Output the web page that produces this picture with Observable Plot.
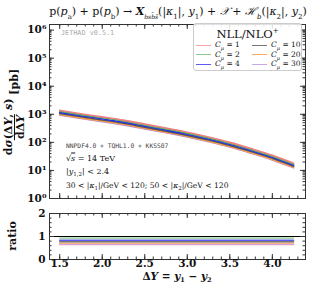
<!DOCTYPE html>
<html><head><meta charset="utf-8">
<script src="https://cdn.jsdelivr.net/npm/d3@7"></script>
<script src="https://cdn.jsdelivr.net/npm/@observablehq/plot@0.6"></script>
<style>
body{margin:0;background:#fff;}
#root{position:relative;width:309px;height:285px;overflow:hidden;font-family:"DejaVu Serif",serif;color:#111;}
.abs{position:absolute;white-space:nowrap;}
.legend{position:absolute;left:193px;top:23px;width:109px;height:48px;border:1px solid #ccc;border-radius:3px;background:rgba(255,255,255,0.85);box-sizing:border-box;}
.li{position:absolute;font-size:7.5px;line-height:9px;}
.li span.sw{display:inline-block;width:15px;height:0;border-top:1.3px solid;vertical-align:middle;margin-right:4px;}
</style></head>
<body><div id="root"></div>
<script>
// ---- data ----
const dY = [1.5, 1.75, 2.0, 2.25, 2.5, 2.75, 3.0, 3.25, 3.5, 3.75, 4.0, 4.25];
const sigmaC1  = [1380, 1050, 810, 620, 447, 324, 229, 155, 100, 60, 34.7, 18.2];
const sigmaC2  = [1290, 975, 755, 575, 415, 300, 213, 144, 93, 56, 32.3, 17.0];
const sigmaC4  = [1175, 890, 690, 525, 380, 275, 195, 132, 85, 51, 29.5, 15.5];
const sigmaC10 = [1075, 815, 630, 480, 348, 252, 178, 121, 78, 47, 27.0, 14.2];
const sigmaC20 = [980, 745, 575, 440, 317, 230, 163, 110, 71, 42.6, 24.6, 12.9];
const sigmaC30 = [940, 712, 550, 420, 303, 220, 156, 105, 68, 40.8, 23.6, 12.4];
const ratioC1  = [0.65, 0.65, 0.65, 0.65, 0.65, 0.65, 0.65, 0.65, 0.65, 0.65, 0.65, 0.65];
const ratioC2  = [0.93, 0.93, 0.93, 0.93, 0.93, 0.93, 0.93, 0.93, 0.93, 0.93, 0.93, 0.93];
const ratioC4  = [0.84, 0.84, 0.84, 0.84, 0.84, 0.84, 0.84, 0.84, 0.84, 0.84, 0.84, 0.84];
const ratioC10 = [0.77, 0.77, 0.77, 0.77, 0.77, 0.77, 0.77, 0.77, 0.77, 0.77, 0.77, 0.77];
const ratioC20 = [0.71, 0.71, 0.71, 0.71, 0.71, 0.71, 0.71, 0.71, 0.71, 0.71, 0.71, 0.71];
const ratioC30 = [0.67, 0.67, 0.67, 0.67, 0.67, 0.67, 0.67, 0.67, 0.67, 0.67, 0.67, 0.67];
const seriesNames = ["1", "2", "4", "10", "20", "30"];
const xTickLabels = [1.5, 2.0, 2.5, 3.0, 3.5, 4.0];
const yMainTicks = [1, 10, 100, 1000, 1e4, 1e5, 1e6];
const yRatioTicks = [0, 1, 2];

const colors = {"1":"#f07f80","2":"#52b052","4":"#2b2bf5","10":"#555555","20":"#ffa040","30":"#b58be0"};
const ratioColors = {"1":"#f4a3a8","2":"#8cc98c","4":"#5b5bf0","10":"#777777","20":"#ffaa66","30":"#c7a6ea"};
const sig = {"1":sigmaC1,"2":sigmaC2,"4":sigmaC4,"10":sigmaC10,"20":sigmaC20,"30":sigmaC30};
const rat = {"1":ratioC1,"2":ratioC2,"4":ratioC4,"10":ratioC10,"20":ratioC20,"30":ratioC30};
const drawOrder = ["30","20","10","4","2","1"];
const ratioOrder = ["1","30","20","10","4","2"];

const W = 309, mL = 49, mR = 4;
const innerW = W - mL - mR;
const xDomain = [1.38, 4.39];

// minor tick positions
const xMinor = d3.range(15, 44).map(v => v / 10);
const yMinor = [];
for (let n = 0; n <= 6; n++) for (let k = 1; k <= 9; k++) { const v = k * 10 ** n; if (v <= 10 ** 6.2) yMinor.push(v); }
const rMinor = d3.range(0, 11).map(v => v / 5);

const sup = {"0":"⁰","1":"¹","2":"²","3":"³","4":"⁴","5":"⁵","6":"⁶"};
const fmtPow = d => "10" + sup[String(Math.round(Math.log10(d)))];

const style = {fontFamily: "DejaVu Serif", fontSize: "10.5px", fontWeight: "bold", background: "transparent", color: "#111", overflow: "visible"};

function frameTicks(innerH, yTicksMajor, yTicksMinor) {
  const m = [];
  const xMaj = xTickLabels;
  m.push(Plot.tickX(xMinor, {x: d => d, insetBottom: innerH - 2.5, stroke: "#333"}));
  m.push(Plot.tickX(xMinor, {x: d => d, insetTop: innerH - 2.5, stroke: "#333"}));
  m.push(Plot.tickX(xMaj, {x: d => d, insetBottom: innerH - 5, stroke: "#333"}));
  m.push(Plot.tickX(xMaj, {x: d => d, insetTop: innerH - 5, stroke: "#333"}));
  m.push(Plot.tickY(yTicksMinor, {y: d => d, insetRight: innerW - 2.5, stroke: "#333"}));
  m.push(Plot.tickY(yTicksMinor, {y: d => d, insetLeft: innerW - 2.5, stroke: "#333"}));
  m.push(Plot.tickY(yTicksMajor, {y: d => d, insetRight: innerW - 5, stroke: "#333"}));
  m.push(Plot.tickY(yTicksMajor, {y: d => d, insetLeft: innerW - 5, stroke: "#333"}));
  return m;
}

// ---- main panel ----
const mainH = 200, mainTop = 24, mainBot = 2;
const mainMarks = [];
for (const s of drawOrder) {
  const rows = dY.map((x, i) => ({x, y: sig[s][i]}));
  mainMarks.push(Plot.line(rows, {x: "x", y: "y", stroke: colors[s], strokeWidth: 1.6, curve: "monotone-x"}));
}
const mainPlot = Plot.plot({
  width: W, height: mainH, marginTop: mainTop, marginBottom: mainBot, marginLeft: mL, marginRight: mR,
  x: {domain: xDomain, axis: null},
  y: {type: "log", domain: [1, 10 ** 6.2], axis: null},
  style,
  marks: [
    ...mainMarks,
    ...frameTicks(mainH - mainTop - mainBot, yMainTicks, yMinor),
    Plot.frame({stroke: "#333"}),
    Plot.axisY({ticks: yMainTicks, tickSize: 0, tickPadding: 3, tickFormat: fmtPow, label: null, anchor: "left"})
  ]
});

// ---- ratio panel ----
const rH = 80, rTop = 8, rBot = 26;
const ratioMarks = [];
for (const s of ratioOrder) {
  const rows = dY.map((x, i) => ({x, y: rat[s][i]}));
  ratioMarks.push(Plot.line(rows, {x: "x", y: "y", stroke: ratioColors[s], strokeWidth: 1.4}));
}
const ratioPlot = Plot.plot({
  width: W, height: rH, marginTop: rTop, marginBottom: rBot, marginLeft: mL, marginRight: mR,
  x: {domain: xDomain, axis: null},
  y: {domain: [0, 2], axis: null},
  style,
  marks: [
    Plot.ruleY([1], {stroke: "#000", strokeWidth: 1}),
    ...ratioMarks,
    ...frameTicks(rH - rTop - rBot, yRatioTicks, rMinor),
    Plot.frame({stroke: "#333"}),
    Plot.axisY({ticks: yRatioTicks, tickSize: 0, tickPadding: 4, tickFormat: d3.format("d"), label: null, anchor: "left"}),
    Plot.axisX({ticks: xTickLabels, tickSize: 0, tickPadding: 0, tickFormat: d3.format(".1f"), label: null, anchor: "bottom"})
  ]
});

const root = document.getElementById("root");
function place(el, left, top) { el.style.position = "absolute"; el.style.left = left + "px"; el.style.top = top + "px"; root.appendChild(el); }
place(mainPlot, 0, 0);
place(ratioPlot, 0, 205);

function html(str, cssText) { const d = document.createElement("div"); d.className = "abs"; d.innerHTML = str; d.style.cssText += cssText; root.appendChild(d); return d; }

// title
html('p(<i>p</i><sub style="font-size:7px">a</sub>) + p(<i>p</i><sub style="font-size:7px">b</sub>) → <b><i>X</i></b><sub style="font-size:6px"><i>bsb̄s̄</i></sub>(|<i>κ</i><sub style="font-size:7px">1</sub>|, <i>y</i><sub style="font-size:7px">1</sub>) + <i>𝒳</i> + <i>ℋ</i><sub style="font-size:7px"><i>b</i></sub>(|<i>κ</i><sub style="font-size:7px">2</sub>|, <i>y</i><sub style="font-size:7px">2</sub>)',
  "left:178px;top:12px;transform:translate(-50%,-50%);font-size:11px;");

// annotations
html('JETHAD v0.5.1', "left:61px;top:33px;transform:translateY(-50%);font-family:'DejaVu Sans Mono',monospace;font-size:6.8px;color:#aaa;");
html('NNPDF4.0 + TQHL1.0 + KKSS07', "left:66px;top:145px;transform:translateY(-50%);font-family:'DejaVu Sans Mono',monospace;font-size:6.3px;color:#444;");
html('√<span style="text-decoration:overline"><i>s</i></span> = 14 TeV', "left:66px;top:158px;transform:translateY(-50%);font-size:8px;");
html('|<i>y</i><sub style="font-size:5.5px">1,2</sub>| &lt; 2.4', "left:66px;top:172px;transform:translateY(-50%);font-size:8px;");
html('30 &lt; |<i>κ</i><sub style="font-size:5.5px">1</sub>|/GeV &lt; 120; 50 &lt; |<i>κ</i><sub style="font-size:5.5px">2</sub>|/GeV &lt; 120', "left:66px;top:186px;transform:translateY(-50%);font-size:7.6px;");

// y label (fraction)
html('<span style="display:inline-flex;align-items:center;"><span style="display:inline-flex;flex-direction:column;align-items:center;line-height:11px;"><span>d<i>σ</i>(Δ<i>Y</i>, <i>s</i>)</span><span style="border-top:1px solid #111;padding:0 1px;">dΔ<i>Y</i></span></span><span style="margin-left:4px">[pb]</span></span>',
  "left:14px;top:112px;transform:translate(-50%,-50%) rotate(-90deg);font-size:11px;font-weight:bold;");
html('ratio', "left:12px;top:236px;transform:translate(-50%,-50%) rotate(-90deg);font-size:11px;font-weight:bold;");
html('Δ<i>Y</i> = <i>y</i><sub style="font-size:6.5px;vertical-align:-2px">1</sub> − <i>y</i><sub style="font-size:6.5px;vertical-align:-2px">2</sub>', "left:177px;top:278px;transform:translate(-50%,-50%);font-size:10.5px;line-height:11px;font-weight:bold;");

// legend
const lg = document.createElement("div"); lg.className = "legend"; root.appendChild(lg);
const lt = document.createElement("div"); lt.className = "abs"; lt.innerHTML = 'NLL/NLO<sup style="font-size:7px">+</sup>';
lt.style.cssText += "left:50%;top:10px;transform:translate(-50%,-50%);font-size:11.5px;"; lg.appendChild(lt);
seriesNames.forEach((s, i) => {
  const col = i < 3 ? 0 : 1, row = i % 3;
  const d = document.createElement("div"); d.className = "li";
  d.style.left = (col ? 58 : 2) + "px"; d.style.top = (16 + row * 9.7) + "px";
  d.innerHTML = '<span class="sw" style="border-color:' + ratioColors[s] + '"></span><i>C</i><sub style="font-size:5px"><i>μ</i></sub> = ' + s;
  lg.appendChild(d);
});
</script></body></html>
